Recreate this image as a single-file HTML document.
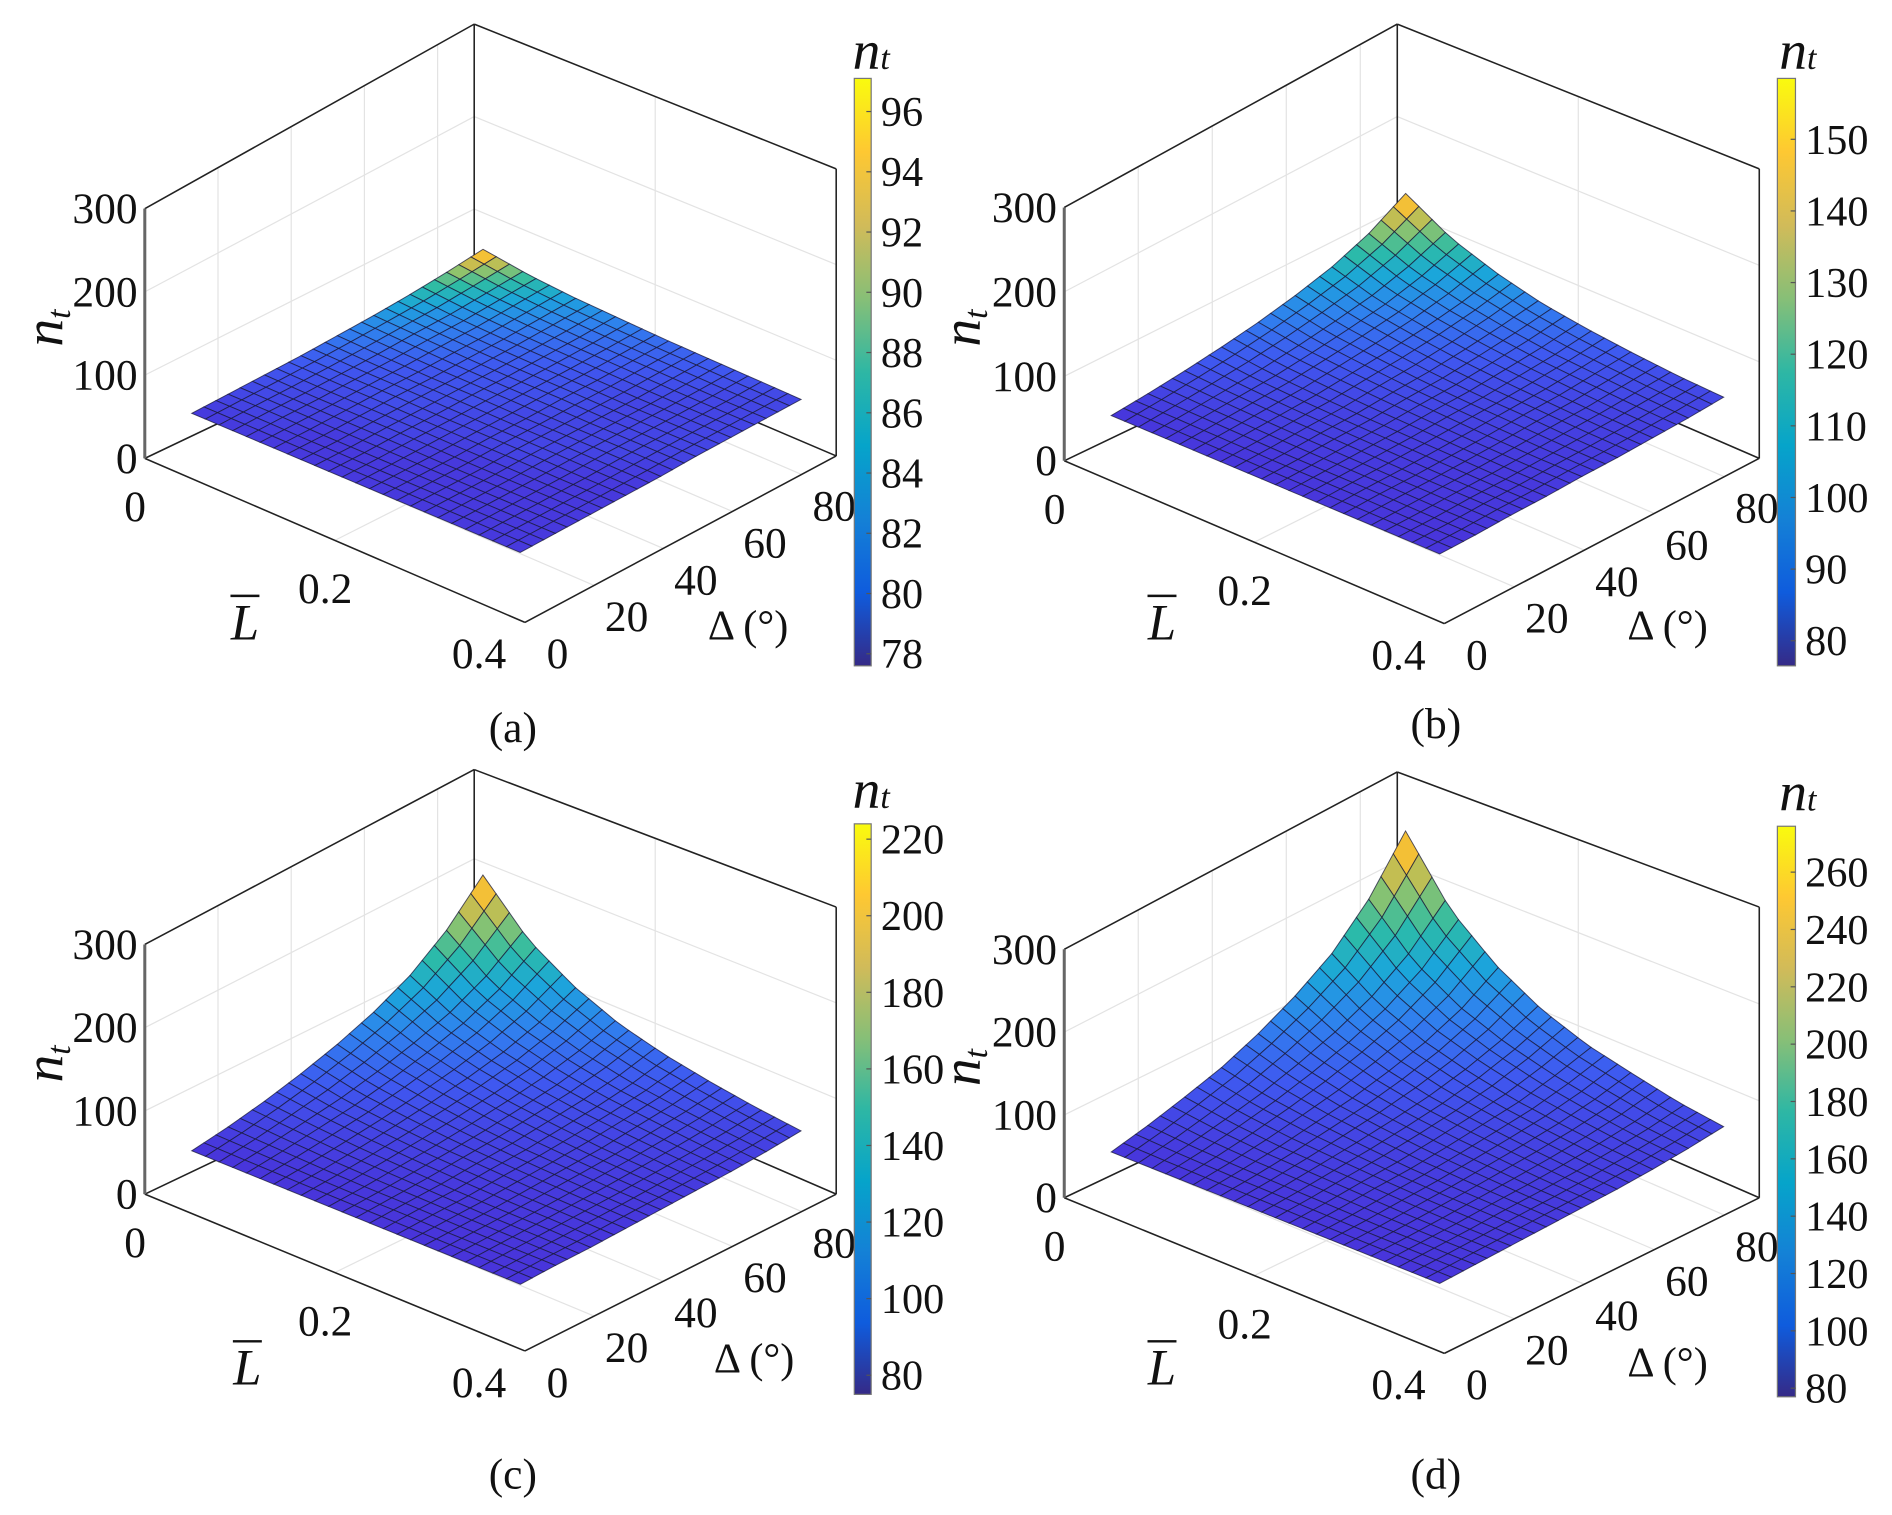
<!DOCTYPE html>
<html><head><meta charset="utf-8"><style>
html,body{margin:0;padding:0;background:#fff;}
svg{display:block;}
svg text{font-family:"Liberation Serif","Times New Roman",Times,serif;fill:#111;}
</style></head><body>
<svg id="fig" width="1892" height="1515" viewBox="0 0 1568 1256" preserveAspectRatio="none" xmlns="http://www.w3.org/2000/svg">
<defs>
<linearGradient id="parula" x1="0" y1="1" x2="0" y2="0">
<stop offset="0" stop-color="#352A87"/><stop offset="0.125" stop-color="#0F5CDD"/><stop offset="0.25" stop-color="#1481D6"/><stop offset="0.375" stop-color="#06A4CA"/><stop offset="0.5" stop-color="#2EB7A4"/><stop offset="0.625" stop-color="#87BF77"/><stop offset="0.75" stop-color="#D1BB59"/><stop offset="0.875" stop-color="#FEC832"/><stop offset="1" stop-color="#F9FB0E"/>
</linearGradient>
</defs>
</svg>
<script>
// ---- data ----
const L_VALS=[0.05,0.1,0.15,0.2,0.25,0.3,0.35,0.4];
const D_VALS=[0,10,20,30,40,50,60,70,80];
const NT_A=[
[78,79,80,81,83,85,88,92,97],
[78,79,79,80,81,83,84,87,90],
[78,78,79,80,80,81,82,84,86],
[78,78,79,79,80,80,81,82,84],
[78,78,78,79,79,80,80,81,82],
[78,78,78,79,79,79,79,80,81],
[78,78,78,78,79,79,79,79,80],
[78,78,78,78,78,79,79,79,79]];
const NT_B=[
[77,81,86,92,99,108,119,135,158],
[77,80,83,86,91,97,104,115,130],
[77,79,81,83,87,91,96,103,113],
[77,78,80,81,84,86,90,95,101],
[77,78,79,80,82,83,86,89,94],
[77,78,78,79,80,82,83,86,89],
[77,77,78,78,79,80,81,83,85],
[77,77,78,78,79,79,80,81,83]];
const NT_C=[
[75,82,91,102,115,131,152,182,223],
[75,80,86,92,101,112,125,144,171],
[75,78,82,87,93,100,109,122,140],
[75,77,80,83,87,92,98,107,119],
[75,77,78,81,83,87,91,97,106],
[75,76,77,79,81,83,87,91,97],
[75,76,77,78,79,81,83,86,90],
[75,76,76,77,78,79,80,82,85]];
const NT_D=[
[78,88,100,113,131,153,180,220,275],
[78,84,92,101,113,127,145,170,206],
[78,82,87,94,101,111,123,140,165],
[78,81,85,89,94,100,109,121,137],
[78,80,83,85,89,94,99,108,119],
[78,79,81,83,86,89,93,99,108],
[78,79,80,82,83,85,88,92,98],
[78,79,80,81,82,83,85,88,92]];
const Z_TICKS=[0,100,200,300];
const L_TICKS=[0,0.2,0.4];
const D_TICKS=[0,20,40,60,80];
const CB_TICKS_A=[78,80,82,84,86,88,90,92,94,96];
const CB_TICKS_B=[80,90,100,110,120,130,140,150];
const CB_TICKS_C=[80,100,120,140,160,180,200,220];
const CB_TICKS_D=[80,100,120,140,160,180,200,220,240,260];
const CB_RANGE_A=[77.6,97.1];
const CB_RANGE_B=[76.5,158.5];
const CB_RANGE_C=[75,224];
const CB_RANGE_D=[77,276];
const L_RANGE=[0,0.4], D_RANGE=[0,90], Z_MAX=300;

// ---- layout (screen geometry, not data) ----
const panels=[
 {id:'a',nt:NT_A,ticks:CB_TICKS_A,range:CB_RANGE_A,
  fl:[120,380],ff:[435,516],fr:[693,378],fb:[393,250],
  tl:[120,173],tf:[420,293],tr:[693,140],tb:[393,20],
  cb:[708,65,14,487],sub:[425,615],ylab:[52,272],lbar:[203,530],dlab:[620,530],cbt:[722,57]},
 {id:'b',nt:NT_B,ticks:CB_TICKS_B,range:CB_RANGE_B,
  fl:[882,382],ff:[1197,517],fr:[1458,380],fb:[1158,250],
  tl:[882,172],tf:[1182,292],tr:[1458,140],tb:[1158,20],
  cb:[1473,65,15,487],sub:[1190,612],ylab:[812,272],lbar:[963,530],dlab:[1382,530],cbt:[1490,57]},
 {id:'c',nt:NT_C,ticks:CB_TICKS_C,range:CB_RANGE_C,
  fl:[120,990],ff:[435,1120],fr:[693,990],fb:[393,860],
  tl:[120,783],tf:[420,899],tr:[693,752],tb:[393,638],
  cb:[708,683,14,473],sub:[425,1234],ylab:[52,882],lbar:[205,1148],dlab:[625,1138],cbt:[722,670]},
 {id:'d',nt:NT_D,ticks:CB_TICKS_D,range:CB_RANGE_D,
  fl:[882,993],ff:[1197,1122],fr:[1458,993],fb:[1158,862],
  tl:[882,787],tf:[1182,899],tr:[1458,752],tb:[1158,640],
  cb:[1473,685,15,473],sub:[1190,1234],ylab:[812,885],lbar:[963,1148],dlab:[1382,1141],cbt:[1490,672]}
];

const NS='http://www.w3.org/2000/svg';
const svg=document.getElementById('fig');
function mk(tag,attrs,parent){const e=document.createElementNS(NS,tag);for(const k in attrs)e.setAttribute(k,attrs[k]);(parent||svg).appendChild(e);return e;}
function lerp(a,b,t){return [a[0]+(b[0]-a[0])*t,a[1]+(b[1]-a[1])*t];}
function bil(c0,c1,c2,c3,u,v){
 return [(1-u)*(1-v)*c0[0]+u*(1-v)*c1[0]+u*v*c2[0]+(1-u)*v*c3[0],
         (1-u)*(1-v)*c0[1]+u*(1-v)*c1[1]+u*v*c2[1]+(1-u)*v*c3[1]];}
function project(P,L,D,z){
 const u=(L-L_RANGE[0])/(L_RANGE[1]-L_RANGE[0]), v=(D-D_RANGE[0])/(D_RANGE[1]-D_RANGE[0]);
 const f=bil(P.fl,P.ff,P.fr,P.fb,u,v), t=bil(P.tl,P.tf,P.tr,P.tb,u,v);
 return lerp(f,t,z/Z_MAX);}
const SURF=[[0,[72,52,218]],[0.15,[63,88,240]],[0.3,[47,130,238]],[0.45,[27,166,218]],[0.6,[45,188,165]],[0.75,[150,195,105]],[0.88,[242,185,58]],[1,[247,228,37]]];
function cmap(t){t=Math.max(0,Math.min(1,t));for(let i=1;i<SURF.length;i++){if(t<=SURF[i][0]){const a=SURF[i-1],b=SURF[i],s=(t-a[0])/(b[0]-a[0]);
 return 'rgb('+a[1].map((x,k)=>Math.round(x+(b[1][k]-x)*s)).join(',')+')';}}return 'rgb(247,228,37)';}
function sample(M,li,di){
 const i0=Math.min(Math.floor(li),M.length-2),j0=Math.min(Math.floor(di),M[0].length-2);
 const a=li-i0,b=di-j0;
 return M[i0][j0]*(1-a)*(1-b)+M[i0+1][j0]*a*(1-b)+M[i0][j0+1]*(1-a)*b+M[i0+1][j0+1]*a*b;}

panels.forEach(P=>{
 const g=mk('g',{});
 
 
 const gg=mk('g',{stroke:'#e3e3e3','stroke-width':1,fill:'none'},g);
 
 
 Z_TICKS.slice(1,3).forEach(z=>{
  const a=project(P,0,0,z),b=project(P,0,90,z),c=project(P,0.4,90,z);
  mk('polyline',{points:[a,b,c].map(p=>p.join(',')).join(' ')},gg);});
 D_TICKS.slice(1).forEach(d=>{const a=project(P,0,d,0),b=project(P,0,d,Z_MAX);mk('line',{x1:a[0],y1:a[1],x2:b[0],y2:b[1]},gg);});
 L_TICKS.slice(1).forEach(l=>{const a=project(P,l,90,0),b=project(P,l,90,Z_MAX);mk('line',{x1:a[0],y1:a[1],x2:b[0],y2:b[1]},gg);});
 D_TICKS.slice(1).forEach(d=>{const a=project(P,0,d,0),b=project(P,0.4,d,0);mk('line',{x1:a[0],y1:a[1],x2:b[0],y2:b[1]},gg);});
 L_TICKS.slice(1,2).forEach(l=>{const a=project(P,l,0,0),b=project(P,l,90,0);mk('line',{x1:a[0],y1:a[1],x2:b[0],y2:b[1]},gg);});
 const bx=mk('g',{stroke:'#222','stroke-width':1.3,fill:'none'},g);
 
 
 [[P.fl,P.fb],[P.fb,P.fr],[P.fb,P.tb],[P.tl,P.tb],[P.tb,P.tr],[P.fr,P.tr],[P.fl,P.ff],[P.ff,P.fr]].forEach(s=>mk('line',{x1:s[0][0],y1:s[0][1],x2:s[1][0],y2:s[1][1]},bx));
 const za=mk('line',{x1:P.fl[0],y1:P.fl[1],x2:P.tl[0],y2:P.tl[1],stroke:'#666','stroke-width':2.5},g);
 
 
 const sg=mk('g',{stroke:'#1a1a3a','stroke-opacity':0.75,'stroke-width':0.8},g);
 
 
 const N=24, M=P.nt, nl=L_VALS.length-1, nd=D_VALS.length-1;
 const cells=[];
 for(let i=0;i<N;i++)for(let j=0;j<N;j++)cells.push([i,j]);
 cells.sort((a,b)=>(a[0]-a[1])-(b[0]-b[1]));
 const lo=P.range[0],hi=P.range[1];
 cells.forEach(([i,j])=>{
  const pts=[[i,j],[i+1,j],[i+1,j+1],[i,j+1]].map(([a,b])=>{
   const li=a/N*nl, di=b/N*nd;
   const L=L_VALS[0]+(L_VALS[nl]-L_VALS[0])*a/N, D=D_VALS[0]+(D_VALS[nd]-D_VALS[0])*b/N;
   const z=sample(M,li,di); return {p:project(P,L,D,z),z};});
  const zm=pts.reduce((s,q)=>s+q.z,0)/4;
  const poly=mk('polygon',{points:pts.map(q=>q.p.join(',')).join(' '),fill:cmap((zm-lo)/(hi-lo))},sg);
  
  
 });
 Z_TICKS.forEach(z=>{const p=project(P,0,0,z);
  const t=mk('text',{x:p[0]-6,y:p[1]+12,'font-size':36,'text-anchor':'end'},g);t.textContent=z;
  
  });
 L_TICKS.forEach(l=>{const p=project(P,l,0,0);const last=l>=0.4;
  const t=mk('text',{x:p[0]+(last?-38:-8),y:p[1]+(last?38:52),'font-size':36,'text-anchor':'middle'},g);t.textContent=l===0?'0':String(l);
  
  });
 D_TICKS.forEach(d=>{const p=project(P,0.4,d,0);
  const t=mk('text',{x:p[0]+27,y:p[1]+38,'font-size':36,'text-anchor':'middle'},g);t.textContent=d;
  
  });
 const yl=mk('text',{x:P.ylab[0],y:P.ylab[1],'font-size':46,'font-style':'italic',transform:'rotate(-90 '+P.ylab[0]+' '+P.ylab[1]+')','text-anchor':'middle'},g);
 yl.innerHTML='n<tspan font-size="28" dy="6">t</tspan>';
 
 
 const lb=mk('text',{x:P.lbar[0],y:P.lbar[1],'font-size':42,'font-style':'italic','text-anchor':'middle'},g);lb.textContent='L';
 
 
 const ov=mk('line',{x1:P.lbar[0]-12,y1:P.lbar[1]-36,x2:P.lbar[0]+12,y2:P.lbar[1]-36,stroke:'#111','stroke-width':2},g);
 
 
 const dl=mk('text',{x:P.dlab[0],y:P.dlab[1],'font-size':35,'text-anchor':'middle'},g);dl.textContent='Δ (°)';
 
 
 const sl=mk('text',{x:P.sub[0],y:P.sub[1],'font-size':36,'text-anchor':'middle'},g);sl.textContent='('+P.id+')';
 
 
 const [cx,cy,cw,ch]=P.cb;
 const cr=mk('rect',{x:cx,y:cy,width:cw,height:ch,fill:'url(#parula)',stroke:'#777','stroke-width':1},g);
 
 
 const cyOf=v=>cy+ch-(v-lo)/(hi-lo)*ch;
 P.ticks.forEach(v=>{const y=cyOf(v);
  mk('line',{x1:cx+cw-4,y1:y,x2:cx+cw,y2:y,stroke:'#555','stroke-width':1},g);
  const t=mk('text',{x:cx+cw+8,y:y+12,'font-size':35},g);t.textContent=v;
  
  });
 const ct=mk('text',{x:P.cbt[0],y:P.cbt[1],'font-size':46,'font-style':'italic','text-anchor':'middle'},g);
 ct.innerHTML='n<tspan font-size="28">t</tspan>';
 
 
});
</script>
</body></html>
